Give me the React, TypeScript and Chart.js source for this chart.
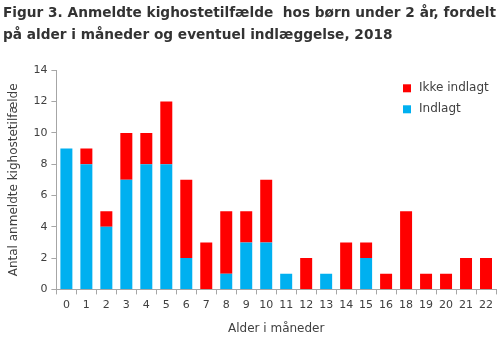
import React, { useEffect, useRef } from "react";
import { Chart, registerables } from "chart.js";

Chart.register(...registerables);

const categories = ["0","1","2","3","4","5","6","7","8","9","10","11","12","13","14","15","16","18","19","20","21","22"];
const indlagt = [9,8,4,7,8,8,2,0,1,3,3,1,0,1,0,2,0,0,0,0,0,0];
const ikkeIndlagt = [0,1,1,3,2,4,5,3,4,2,4,0,2,0,3,1,1,5,1,1,2,2];
const yTicks = [0,2,4,6,8,10,12,14];
const titleLines = ["Figur 3. Anmeldte kighostetilfælde  hos børn under 2 år, fordelt", "på alder i måneder og eventuel indlæggelse, 2018"];
const legendItems = [
  { label: "Ikke indlagt", color: "#ff0000" },
  { label: "Indlagt", color: "#00b0f0" },
];

const FONT = "'DejaVu Sans', sans-serif";
const TEXT = "#404040";
const AXIS = "#a6a6a6";

const legendPlugin = {
  id: "insideLegend",
  afterDraw(chart: any) {
    const ctx = chart.ctx;
    const area = chart.chartArea;
    ctx.save();
    ctx.font = `12px ${FONT}`;
    ctx.textBaseline = "middle";
    ctx.textAlign = "left";
    const x0 = area.right - 93;
    let y = area.top + 18;
    legendItems.forEach((it) => {
      ctx.fillStyle = it.color;
      ctx.fillRect(x0, y - 4, 8, 8);
      ctx.fillStyle = TEXT;
      ctx.fillText(it.label, x0 + 16, y);
      y += 21;
    });
    ctx.restore();
  },
};

export default function App() {
  const ref = useRef<HTMLCanvasElement>(null);
  useEffect(() => {
    document.body.style.margin = "0";
    const chart = new Chart(ref.current!, {
      type: "bar",
      data: {
        labels: categories,
        datasets: [
          { label: "Indlagt", data: indlagt, backgroundColor: "#00b0f0", categoryPercentage: 1, barPercentage: 0.6 },
          { label: "Ikke indlagt", data: ikkeIndlagt, backgroundColor: "#ff0000", categoryPercentage: 1, barPercentage: 0.6 },
        ],
      },
      options: {
        animation: false,
        responsive: false,
        maintainAspectRatio: false,
        layout: { padding: { left: 3, right: 4, top: 0, bottom: 5 } },
        plugins: {
          legend: { display: false },
          tooltip: { enabled: false },
          title: {
            display: true,
            text: titleLines,
            align: "start",
            color: "#333333",
            font: { family: FONT, size: 13.7, weight: "bold", lineHeight: 1.58 },
            padding: { top: 3, bottom: 24 },
          },
        },
        scales: {
          x: {
            stacked: true,
            grid: { drawOnChartArea: false, color: AXIS, tickLength: 5, offset: true },
            border: { color: AXIS },
            ticks: { color: TEXT, font: { family: FONT, size: 11 }, maxRotation: 0, autoSkip: false, padding: 4 },
            title: { display: true, text: "Alder i måneder", color: TEXT, font: { family: FONT, size: 12 }, padding: { top: 6, bottom: 0 } },
          },
          y: {
            stacked: true,
            min: 0,
            max: 14,
            afterBuildTicks: (axis: any) => { axis.ticks = yTicks.map((v) => ({ value: v })); },
            grid: { drawOnChartArea: false, color: AXIS, tickLength: 5 },
            border: { color: AXIS },
            ticks: { color: TEXT, font: { family: FONT, size: 11 }, padding: 4 },
            title: { display: true, text: "Antal anmeldte kighostetilfælde", color: TEXT, font: { family: FONT, size: 12 }, padding: { top: 4, bottom: 8 } },
          },
        },
      },
      plugins: [legendPlugin],
    });
    return () => chart.destroy();
  }, []);
  return (
    <div style={{ width: 500, height: 341, background: "#fff" }}>
      <canvas ref={ref} width={500} height={341} />
    </div>
  );
}
